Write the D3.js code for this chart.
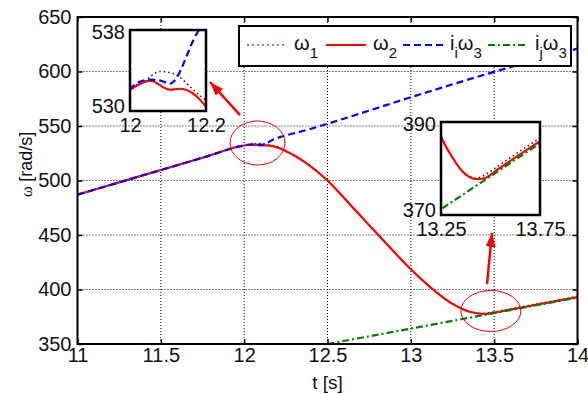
<!DOCTYPE html>
<html>
<head>
<meta charset="utf-8">
<script src="https://cdn.jsdelivr.net/npm/d3@7"></script>
<style>
  body { margin: 0; background: #fff; }
  svg { display: block; font-family: "Liberation Sans", Arial, sans-serif; }
</style>
</head>
<body>
<div id="chart"></div>
<script>
// ---- data ----
const xTicks = [11, 11.5, 12, 12.5, 13, 13.5, 14];
const yTicks = [350, 400, 450, 500, 550, 600, 650];

// omega_1 (dotted)
const w1T = [11, 11.25, 11.5, 11.75, 12, 12.035, 12.08, 12.114, 12.175, 12.2, 12.295, 12.375, 12.5, 12.635, 12.75, 12.875, 13, 13.125, 13.25, 13.31, 13.36, 13.43, 13.47, 13.53, 13.63, 13.74, 13.87, 14];
const w1V = [487, 498.3, 509.6, 520.9, 532.3, 532.9, 533.9, 533.7, 531.8, 531.0, 523.6, 515.8, 500, 478, 459, 438.5, 418.5, 401, 386.8, 382.2, 379.3, 377.9, 378.6, 380.3, 383.2, 386.3, 390.0, 393.7];

// omega_2 (solid red)
const w2T = [11, 11.25, 11.5, 11.75, 12, 12.053, 12.105, 12.13, 12.2, 12.235, 12.295, 12.375, 12.5, 12.635, 12.75, 12.875, 13, 13.125, 13.25, 13.31, 13.36, 13.43, 13.47, 13.53, 13.63, 13.74, 13.87, 14];
const w2V = [487, 498.3, 509.6, 520.9, 532.1, 533.0, 532.1, 532.2, 530.4, 528, 523.4, 515.8, 500, 478, 459, 438.5, 418.5, 401, 386.8, 382.2, 379.3, 377.7, 377.9, 379.6, 382.5, 385.6, 389.3, 393];

// i_i omega_3 (blue dashed)
const w3iT = [11, 11.25, 11.5, 11.75, 12, 12.02, 12.053, 12.08, 12.105, 12.175, 12.375, 13.055, 13.5, 14];
const w3iV = [487, 498.3, 509.6, 520.9, 532.2, 532.8, 533.1, 533.0, 532.7, 537.6, 546.3, 579, 599.7, 621];

// i_j omega_3 (green dash-dot)
const w3jT = [12.5, 14];
const w3jV = [350, 392.5];

const legendLabels = [["ω", "1"], ["ω", "2"], ["i", "i", "ω", "3"], ["i", "j", "ω", "3"]];

// annotation anchors in data units
const circles = [[12.08, 534.4], [13.48, 380.3]];
const arrows = [[[11.975, 560], [11.795, 590.4]], [[13.457, 405], [13.487, 452]]];

// ---- setup ----
const W = 588, H = 394;
const styles = [
  { color: "#222", width: 1.6, dash: "1.5,3" },
  { color: "#ff0000", width: 2.2, dash: null },
  { color: "#0000ff", width: 2.2, dash: "7,4" },
  { color: "#008000", width: 2.2, dash: "7,3,2,3" }
];
const series = [[w1T, w1V], [w2T, w2V], [w3iT, w3iV], [w3jT, w3jV]]
  .map(([t, v]) => t.map((d, i) => ({ t: d, v: v[i] })));

const svg = d3.select("#chart").append("svg").attr("width", W).attr("height", H);
const defs = svg.append("defs");

const x = d3.scaleLinear().domain([11, 14]).range([77.5, 577.5]);
const y = d3.scaleLinear().domain([350, 650]).range([344, 17]);

function drawLines(g, xs, ys, clipId) {
  const [x0, x1] = xs.range(), [y0, y1] = ys.range();
  defs.append("clipPath").attr("id", clipId).append("rect")
    .attr("x", x0).attr("y", y1).attr("width", x1 - x0).attr("height", y0 - y1);
  const line = d3.line().x(d => xs(d.t)).y(d => ys(d.v)).curve(d3.curveMonotoneX);
  g.append("g").attr("clip-path", `url(#${clipId})`)
    .selectAll("path").data(series).join("path")
    .attr("d", line)
    .attr("fill", "none")
    .attr("stroke", (d, i) => styles[i].color)
    .attr("stroke-width", (d, i) => styles[i].width)
    .attr("stroke-dasharray", (d, i) => styles[i].dash);
}

// grid
const grid = svg.append("g").attr("stroke", "#000").attr("stroke-width", 1).attr("stroke-dasharray", "1,2");
grid.selectAll(".gx").data(xTicks.slice(1, -1)).join("line")
  .attr("x1", d => x(d)).attr("x2", d => x(d)).attr("y1", y(350)).attr("y2", y(650));
grid.selectAll(".gy").data(yTicks.slice(1, -1)).join("line")
  .attr("y1", d => y(d)).attr("y2", d => y(d)).attr("x1", x(11)).attr("x2", x(14));

drawLines(svg, x, y, "clipMain");

// axes
const fmt = d => String(d);
const axes = [
  [d3.axisBottom(x).tickValues(xTicks).tickFormat(fmt).tickPadding(4), 0, y(350)],
  [d3.axisLeft(y).tickValues(yTicks).tickFormat(fmt).tickPadding(6), x(11), 0],
  [d3.axisTop(x).tickValues(xTicks).tickFormat(""), 0, y(650)],
  [d3.axisRight(y).tickValues(yTicks).tickFormat(""), x(14), 0]
];
axes.forEach(([ax, tx, ty]) => {
  const g = svg.append("g").attr("transform", `translate(${tx},${ty})`)
    .call(ax.tickSize(-5).tickSizeOuter(0));
  g.select(".domain").remove();
  g.selectAll("line").attr("stroke", "#000").attr("stroke-width", 1.5);
  g.selectAll("text").attr("font-size", 20).attr("fill", "#111")
    .attr("font-family", "Liberation Sans, Arial, sans-serif");
});
svg.append("rect").attr("x", x(11)).attr("y", y(650))
  .attr("width", x(14) - x(11)).attr("height", y(350) - y(650))
  .attr("fill", "none").attr("stroke", "#000").attr("stroke-width", 2);

// axis titles
svg.append("text").attr("x", (x(11) + x(14)) / 2).attr("y", 389)
  .attr("text-anchor", "middle").attr("font-size", 19).attr("fill", "#111").text("t [s]");
const yt = svg.append("text").attr("transform", `translate(32,${(y(350) + y(650)) / 2 - 16}) rotate(-90)`)
  .attr("text-anchor", "middle").attr("font-size", 18).attr("fill", "#111");
yt.append("tspan").attr("font-family", "Liberation Serif, serif").attr("font-size", 17).text("ω ");
yt.append("tspan").text("[rad/s]");

// annotations
defs.append("marker").attr("id", "head").attr("markerUnits", "userSpaceOnUse")
  .attr("viewBox", "0 0 14 10").attr("refX", 14).attr("refY", 5)
  .attr("markerWidth", 14).attr("markerHeight", 10).attr("orient", "auto")
  .append("path").attr("d", "M0,0L14,5L0,10Z").attr("fill", "#ff0000");
svg.selectAll(".ell").data(circles).join("ellipse")
  .attr("cx", d => x(d[0])).attr("cy", d => y(d[1]))
  .attr("rx", (d, i) => [27.5, 30][i]).attr("ry", (d, i) => [22, 20.5][i])
  .attr("fill", "none").attr("stroke", "#ff0000").attr("stroke-width", 1);
svg.selectAll(".arr").data(arrows).join("line")
  .attr("x1", d => x(d[0][0])).attr("y1", d => y(d[0][1]))
  .attr("x2", d => x(d[1][0])).attr("y2", d => y(d[1][1]))
  .attr("stroke", "#ff0000").attr("stroke-width", 2.5).attr("marker-end", "url(#head)");

// insets
function inset(xd, yd, xr, yr, xLab, yLab, id) {
  const xs = d3.scaleLinear().domain(xd).range(xr);
  const ys = d3.scaleLinear().domain(yd).range(yr);
  const g = svg.append("g");
  g.append("rect").attr("x", xr[0]).attr("y", yr[1]).attr("width", xr[1] - xr[0])
    .attr("height", yr[0] - yr[1]).attr("fill", "#fff");
  drawLines(g, xs, ys, id);
  g.append("rect").attr("x", xr[0]).attr("y", yr[1]).attr("width", xr[1] - xr[0])
    .attr("height", yr[0] - yr[1]).attr("fill", "none").attr("stroke", "#000").attr("stroke-width", 2.5);
  const bx = g.append("g").attr("transform", `translate(0,${yr[0]})`)
    .call(d3.axisBottom(xs).tickValues(xLab).tickFormat(fmt).tickSize(0).tickPadding(7));
  const by = g.append("g").attr("transform", `translate(${xr[0]},0)`)
    .call(d3.axisLeft(ys).tickValues(yLab).tickFormat(fmt).tickSize(0).tickPadding(5));
  [bx, by].forEach(a => {
    a.select(".domain").remove();
    a.selectAll("text").attr("font-size", 20).attr("fill", "#111")
      .attr("font-family", "Liberation Sans, Arial, sans-serif");
  });
  by.selectAll("text").attr("dy", (d, i) => i === 0 ? "0.05em" : "0.4em");
}
inset([12, 12.2], [530, 538], [130, 206], [111, 30], [12, 12.2], [530, 538], "clipIn1");
inset([13.25, 13.75], [370, 390], [441, 540], [215, 122], [13.25, 13.75], [370, 390], "clipIn2");

// legend
const lg = svg.append("g");
lg.append("rect").attr("x", 239).attr("y", 26).attr("width", 332).attr("height", 40)
  .attr("fill", "#fff").attr("stroke", "#000").attr("stroke-width", 2);
const lx = [247, 326, 403, 488];
const legendColors = ["#a0522d", "#ff0000", "#0000ff", "#008000"];
legendLabels.forEach((lab, i) => {
  lg.append("line").attr("x1", lx[i]).attr("x2", lx[i] + 40).attr("y1", 45).attr("y2", 45)
    .attr("stroke", legendColors[i]).attr("stroke-width", styles[i].width)
    .attr("stroke-dasharray", i === 0 ? "2,3" : styles[i].dash);
  const t = lg.append("text").attr("x", lx[i] + 47).attr("y", 50).attr("font-size", 20).attr("fill", "#111");
  lab.forEach((s, k) => {
    const sub = (lab.length === 2 && k === 1) || (lab.length === 4 && (k === 1 || k === 3));
    t.append("tspan").attr("font-size", sub ? 15 : 20)
      .attr("dy", k === 0 ? 0 : (sub ? 8 : -8)).text(s);
  });
});
</script>
</body>
</html>
